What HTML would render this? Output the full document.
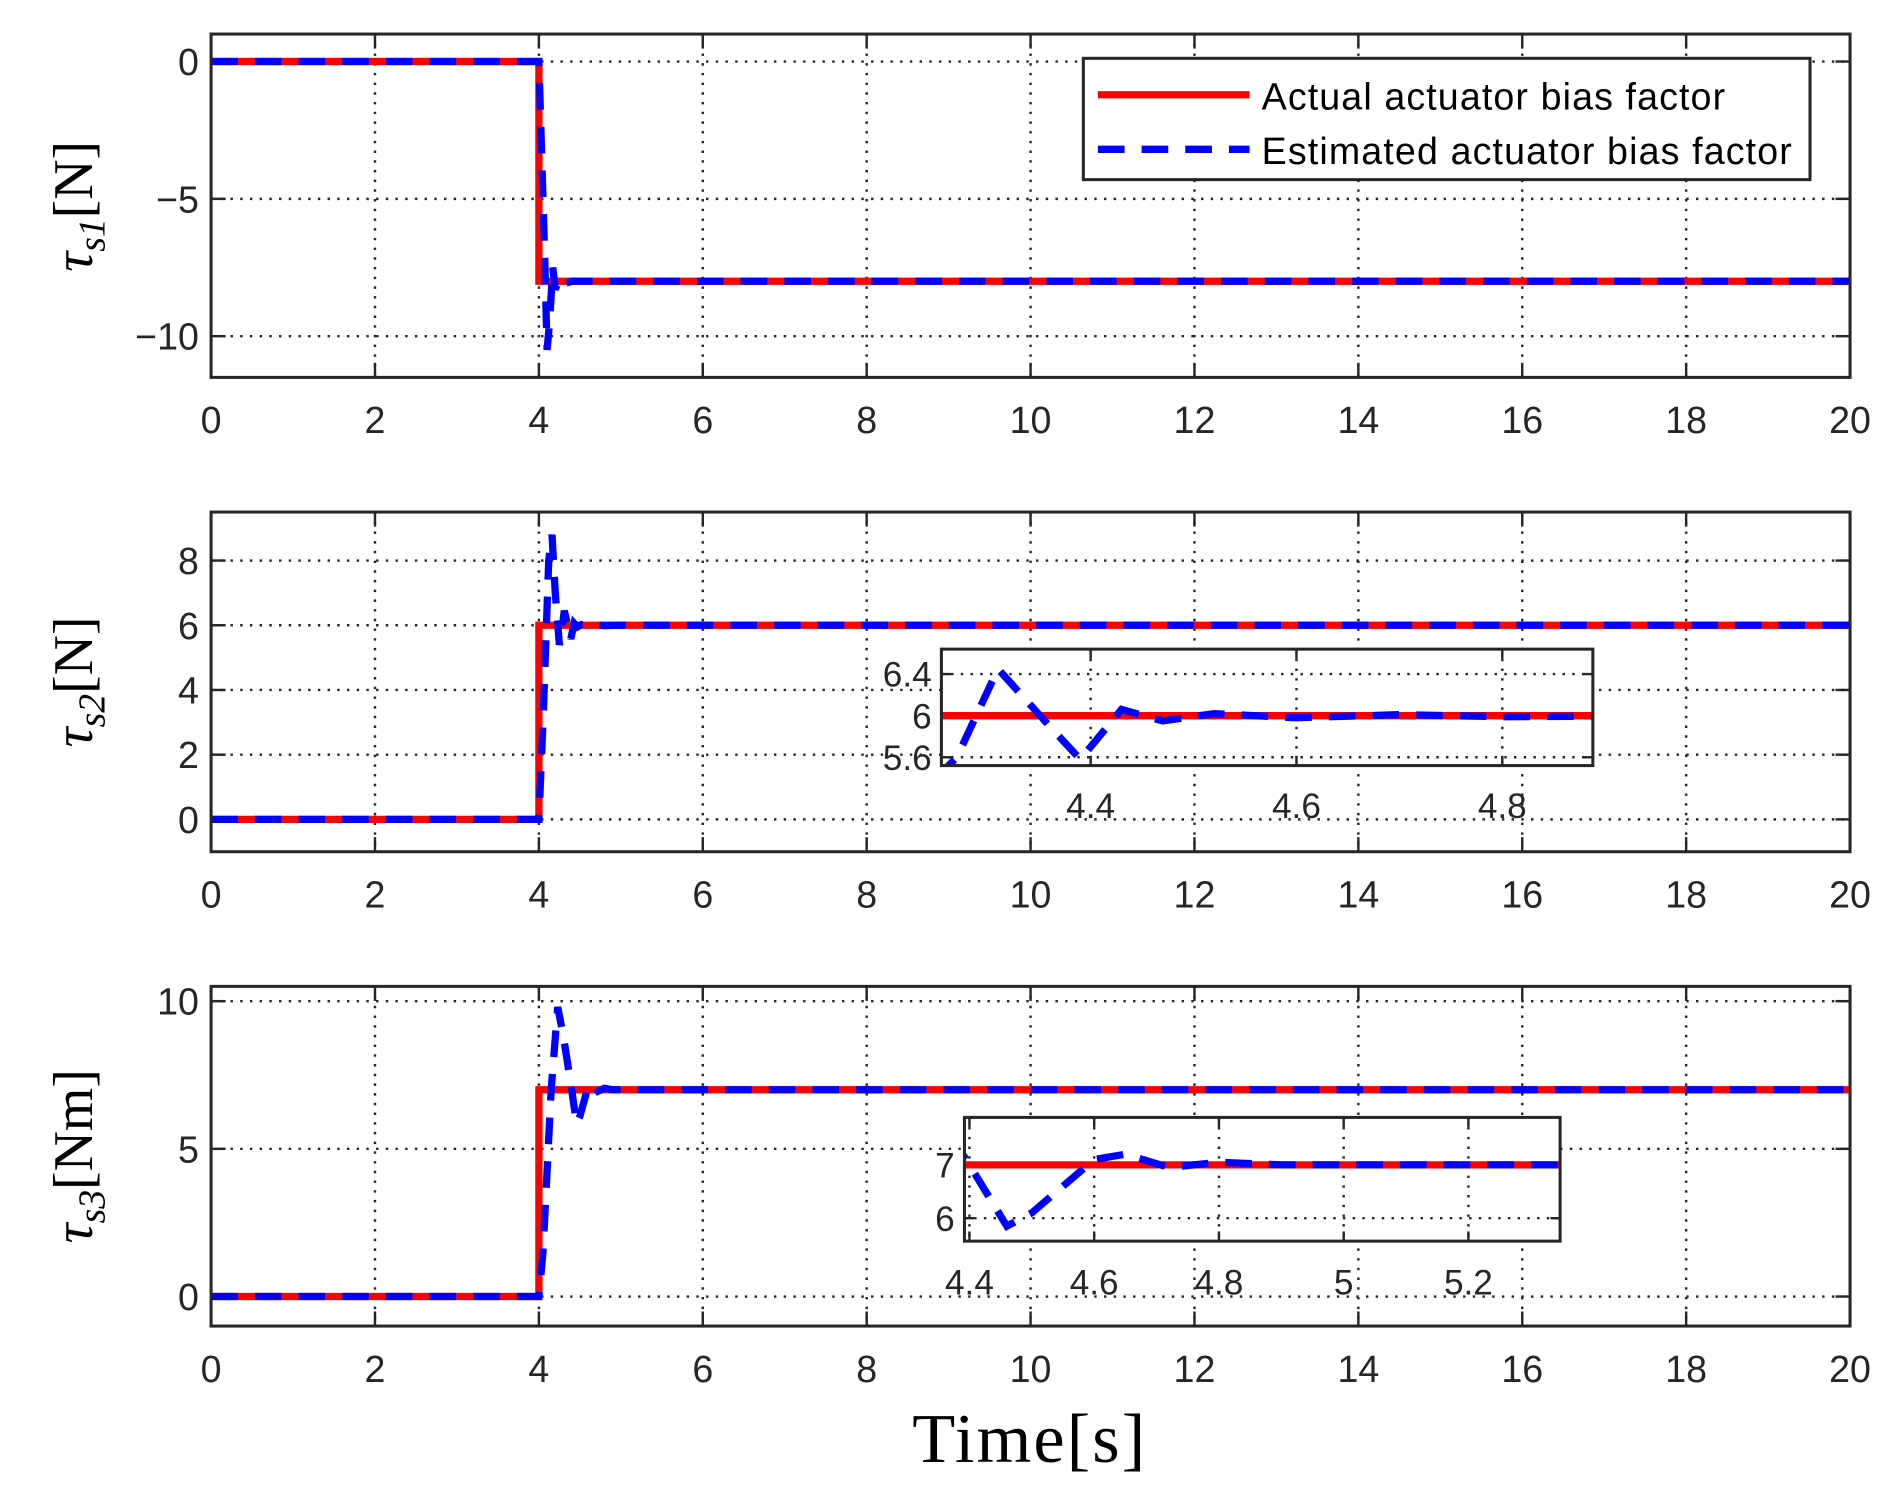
<!DOCTYPE html>
<html><head><meta charset="utf-8">
<style>
html,body{margin:0;padding:0;background:#fff;}
svg{display:block;}
#fig text{font-family:"Liberation Sans",sans-serif;fill:#262626;}
</style></head>
<body>
<svg id="fig" width="1901" height="1496" viewBox="0 0 1567 1233" xmlns="http://www.w3.org/2000/svg"></svg>
<script>
// ---- data ----
const xTicks = [0,2,4,6,8,10,12,14,16,18,20];
const y1Ticks = [0,-5,-10];
const y1TickLabels = ["0","\u22125","\u221210"];
const y2Ticks = [0,2,4,6,8];
const y3Ticks = [0,5,10];
const actual1T = [0,4,4,20];
const actual1V = [0,0,-8,-8];
const est1T = [0,4,4.03,4.07,4.1,4.13,4.17,4.2,4.25,4.3,4.4,4.5,20];
const est1V = [0,0,-3,-7,-10.5,-9.5,-7.5,-8.3,-7.9,-8.1,-8,-8,-8];
const actual2T = [0,4,4,20];
const actual2V = [0,0,6,6];
const est2T = [0,4,4.05,4.12,4.16,4.2,4.25,4.27,4.31,4.36,4.39,4.43,4.47,4.52,4.6,4.7,4.8,5,20];
const est2V = [0,0,3,8,8.8,7,5.4,5.6,6.45,5.9,5.58,6.06,5.95,6.02,5.98,6.01,5.99,6,6];
const actual3T = [0,4,4,20];
const actual3V = [0,0,7,7];
const est3T = [0,4,4.05,4.15,4.23,4.3,4.4,4.46,4.5,4.6,4.65,4.72,4.8,4.9,5,20];
const est3V = [0,0,1.5,7,9.8,8.8,7,5.85,6.1,7.1,7.2,6.95,7.05,7,7,7];
const inset2XTicks = [4.4,4.6,4.8];
const inset2YTicks = [5.6,6,6.4];
const inset3XTicks = [4.4,4.6,4.8,5,5.2];
const inset3YTicks = [6,7];

const NS="http://www.w3.org/2000/svg";
const svg=document.getElementById('fig');
let clipId=0;
function el(tag,attrs,parent){const e=document.createElementNS(NS,tag);for(const k in attrs)e.setAttribute(k,attrs[k]);(parent||svg).appendChild(e);return e;}

function makeAxes(cfg){
  const g=el('g',{});
  
  
  const sx=v=>cfg.x0+(v-cfg.xmin)/(cfg.xmax-cfg.xmin)*(cfg.x1-cfg.x0);
  const sy=v=>cfg.y1-(v-cfg.ymin)/(cfg.ymax-cfg.ymin)*(cfg.y1-cfg.y0);
  el('rect',{x:cfg.x0,y:cfg.y0,width:cfg.x1-cfg.x0,height:cfg.y1-cfg.y0,fill:'#fff'},g);
  cfg.xticks.forEach(t=>{const X=sx(t);
    const gl=el('line',{x1:X,x2:X,y1:cfg.y0,y2:cfg.y1,stroke:'#262626','stroke-width':2,'stroke-dasharray':'2 6'},g);
    
    el('line',{x1:X,x2:X,y1:cfg.y1,y2:cfg.y1-cfg.tick,stroke:'#262626','stroke-width':2},g);
    el('line',{x1:X,x2:X,y1:cfg.y0,y2:cfg.y0+cfg.tick,stroke:'#262626','stroke-width':2},g);
    const tx=el('text',{x:X,y:cfg.y1+cfg.xlabOff,'text-anchor':'middle','font-size':cfg.fs},g);
    tx.textContent=cfg.xfmt?cfg.xfmt(t):String(t);
    
  });
  cfg.yticks.forEach((t,i)=>{const Y=sy(t);
    const gl=el('line',{x1:cfg.x0,x2:cfg.x1,y1:Y,y2:Y,stroke:'#262626','stroke-width':2,'stroke-dasharray':'2 6'},g);
    
    el('line',{x1:cfg.x0,x2:cfg.x0+cfg.tick,y1:Y,y2:Y,stroke:'#262626','stroke-width':2},g);
    el('line',{x1:cfg.x1,x2:cfg.x1-cfg.tick,y1:Y,y2:Y,stroke:'#262626','stroke-width':2},g);
    const tx=el('text',{x:cfg.x0-cfg.ylabOff,y:Y+cfg.fs*0.36,'text-anchor':'end','font-size':cfg.fs},g);
    tx.textContent=cfg.ylabels?cfg.ylabels[i]:String(t);
    
  });
  const id='c'+(clipId++);
  const cp=el('clipPath',{id:id},g);
  el('rect',{x:cfg.x0,y:cfg.y0,width:cfg.x1-cfg.x0,height:cfg.y1-cfg.y0},cp);
  const pg=el('g',{'clip-path':'url(#'+id+')'},g);
  const path=(T,V)=>T.map((t,i)=>(i?'L':'M')+sx(t).toFixed(2)+' '+sy(V[i]).toFixed(2)).join(' ');
  const a=el('path',{d:path(cfg.aT,cfg.aV),fill:'none',stroke:'#ff0000','stroke-width':cfg.lw},pg);
  
  const b=el('path',{d:path(cfg.eT,cfg.eV),fill:'none',stroke:'#0000ff','stroke-width':cfg.lw,'stroke-dasharray':'22 14'},pg);
  
  el('rect',{x:cfg.x0,y:cfg.y0,width:cfg.x1-cfg.x0,height:cfg.y1-cfg.y0,fill:'none',stroke:'#262626','stroke-width':2.5},g);
  return g;
}
const main={x0:174,x1:1525,xmin:0,xmax:20,xticks:xTicks,tick:12,fs:31,xlabOff:46,ylabOff:10,lw:6};
makeAxes(Object.assign({},main,{name:'tau-s1-axes',y0:28,y1:311,ymin:-11.5,ymax:1,yticks:y1Ticks,ylabels:y1TickLabels,aT:actual1T,aV:actual1V,eT:est1T,eV:est1V}));
makeAxes(Object.assign({},main,{name:'tau-s2-axes',y0:422,y1:702,ymin:-1,ymax:9.5,yticks:y2Ticks,aT:actual2T,aV:actual2V,eT:est2T,eV:est2V}));
makeAxes(Object.assign({},main,{name:'tau-s3-axes',y0:813,y1:1093,ymin:-1,ymax:10.5,yticks:y3Ticks,aT:actual3T,aV:actual3V,eT:est3T,eV:est3V}));
makeAxes({name:'tau-s2-inset',x0:776,x1:1313,y0:535,y1:631,xmin:4.255,xmax:4.888,ymin:5.52,ymax:6.64,xticks:inset2XTicks,yticks:inset2YTicks,tick:8,fs:29,xlabOff:43,ylabOff:8,lw:6,aT:actual2T,aV:actual2V,eT:est2T,eV:est2V,xfmt:v=>v.toFixed(1)});
makeAxes({name:'tau-s3-inset',x0:795,x1:1286,y0:921,y1:1023,xmin:4.392,xmax:5.347,ymin:5.57,ymax:7.89,xticks:inset3XTicks,yticks:inset3YTicks,tick:8,fs:29,xlabOff:44,ylabOff:8,lw:6,aT:actual3T,aV:actual3V,eT:est3T,eV:est3V,xfmt:v=>String(v)});
</script>
<svg style="position:absolute;left:0;top:0" width="1901" height="1496" viewBox="0 0 1567 1233" xmlns="http://www.w3.org/2000/svg">
  <g>
    <rect x="893" y="48" width="599" height="100" fill="#fff" stroke="#262626" stroke-width="2.5"/>
    <line x1="905" y1="78" x2="1030" y2="78" stroke="#ff0000" stroke-width="6"/>
    <text x="1040" y="90" textLength="382" style="font-family:'Liberation Sans',sans-serif;font-size:31px;fill:#000">Actual actuator bias factor</text>
    <line x1="905" y1="123" x2="1030" y2="123" stroke="#0000ff" stroke-width="6" stroke-dasharray="22 14"/>
    <text x="1040" y="135" textLength="437" style="font-family:'Liberation Sans',sans-serif;font-size:31px;fill:#000">Estimated actuator bias factor</text>
  </g>
  <text transform="translate(76,170) rotate(-90)" text-anchor="middle" style="font-family:'Liberation Serif',serif;font-size:46px;fill:#000"><tspan font-style="italic">τ<tspan font-size="31" dy="10">s1</tspan></tspan><tspan dy="-10">[N]</tspan></text>
  <text transform="translate(76,562) rotate(-90)" text-anchor="middle" style="font-family:'Liberation Serif',serif;font-size:46px;fill:#000"><tspan font-style="italic">τ<tspan font-size="31" dy="10">s2</tspan></tspan><tspan dy="-10">[N]</tspan></text>
  <text transform="translate(76,953) rotate(-90)" text-anchor="middle" style="font-family:'Liberation Serif',serif;font-size:46px;fill:#000"><tspan font-style="italic">τ<tspan font-size="31" dy="10">s3</tspan></tspan><tspan dy="-10">[Nm]</tspan></text>
  <text x="848" y="1205" text-anchor="middle" textLength="192" style="font-family:'Liberation Serif',serif;font-size:58px;fill:#000">Time[s]</text>
</svg>
</body></html>
